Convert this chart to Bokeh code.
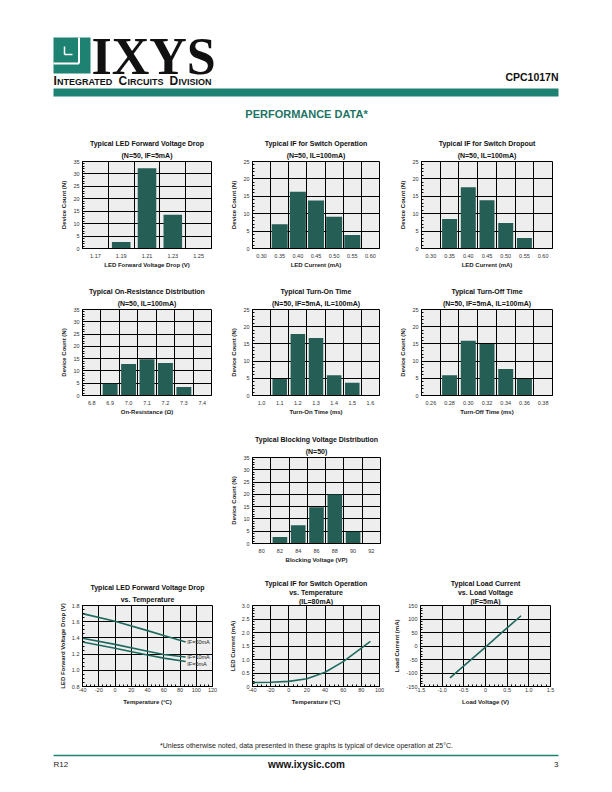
from bokeh.plotting import figure
from bokeh.layouts import column, row
from bokeh.models import (Range1d, Title, SingleIntervalTicker, FixedTicker,
                          NumeralTickFormatter, Spacer)
from bokeh.embed import file_html
from bokeh.resources import INLINE
from bokeh.core.properties import value

FONT = "Liberation Sans"
TEAL = "#1d8272"
BAR = "#245e55"
LINE = "#1f6a5e"
BG = "#eeeeee"

# ---------------- data ----------------
vf_bins = [1.17, 1.19, 1.21, 1.23, 1.25]
vf_counts = [0, 2.6, 32.3, 13.6, 0]

if_op_bins = [0.30, 0.35, 0.40, 0.45, 0.50, 0.55, 0.60]
if_op_counts = [0, 7.0, 16.3, 13.8, 9.1, 3.9, 0]

if_drop_bins = [0.30, 0.35, 0.40, 0.45, 0.50, 0.55, 0.60]
if_drop_counts = [0, 8.5, 17.6, 13.9, 7.3, 3.0, 0]

ron_bins = [6.8, 6.9, 7.0, 7.1, 7.2, 7.3, 7.4]
ron_counts = [0, 4.8, 12.8, 14.8, 13.2, 3.5, 0]

ton_bins = [1.0, 1.1, 1.2, 1.3, 1.4, 1.5, 1.6]
ton_counts = [0, 4.8, 17.9, 16.7, 5.9, 3.7, 0]

toff_bins = [0.26, 0.28, 0.30, 0.32, 0.34, 0.36, 0.38]
toff_counts = [0, 5.9, 15.9, 15.0, 7.7, 4.8, 0]

vb_bins = [80, 82, 84, 86, 88, 90, 92]
vb_counts = [0, 2.6, 7.4, 14.8, 19.9, 4.8, 0]

vf_temp = [-40, 0, 40, 60, 87]
vf_50ma = [1.70, 1.605, 1.49, 1.43, 1.35]
vf_10ma = [1.396, 1.32, 1.235, 1.196, 1.165]
vf_5ma = [1.35, 1.273, 1.19, 1.15, 1.108]
vf_names = ["IF=50mA", "IF=10mA", "IF=5mA"]

if_temp = [-40, -20, 0, 20, 40, 60, 80, 90]
if_curr = [0.15, 0.16, 0.19, 0.29, 0.53, 0.92, 1.42, 1.67]

load_v = [-0.82, -0.4, 0.0, 0.4, 0.82]
load_i = [-118, -60, -4, 53, 112]


def base_fig(w, h, bl, br, bt, bb, xr, yr, titles, inner_standoff):
    p = figure(width=w, height=h, x_range=Range1d(*xr), y_range=Range1d(*yr),
               output_backend="svg", toolbar_location=None, title=None,
               min_border_left=bl, min_border_right=br,
               min_border_top=bt, min_border_bottom=bb)
    p.background_fill_color = BG
    p.border_fill_color = "white"
    p.outline_line_color = "black"
    p.outline_line_width = 1
    p.grid.grid_line_color = "black"
    p.grid.grid_line_width = 1
    for i, t in enumerate(reversed(titles)):
        p.add_layout(Title(text=t, align="center", text_font=FONT,
                           text_font_size="7px", text_font_style="bold",
                           text_color="#111111",
                           standoff=inner_standoff if i == 0 else 0), "above")
    for ax in p.axis:
        ax.axis_line_color = "black"
        ax.major_label_text_font = FONT
        ax.major_label_text_font_size = "5.5px"
        ax.major_label_text_color = "#333333"
        ax.axis_label_text_font = FONT
        ax.axis_label_text_font_size = "6px"
        ax.axis_label_text_font_style = "bold"
        ax.axis_label_text_color = "#222222"
        ax.major_label_standoff = 3
        ax.axis_label_standoff = 3
    return p


def hist(bins, counts, ymax, fmt, xlabel, titles, frac, w, h, bl, br, bt, bb):
    step = bins[1] - bins[0]
    lo = bins[0] - step / 2
    hi = bins[-1] + step / 2
    p = base_fig(w, h, bl, br, bt, bb, (lo, hi), (0, ymax), titles, 6)
    p.vbar(x=bins, top=counts, bottom=0, width=step * frac,
           fill_color=BAR, line_color=None)
    p.xaxis.ticker = FixedTicker(ticks=bins)
    p.xaxis.formatter = NumeralTickFormatter(format=fmt)
    p.xgrid.ticker = FixedTicker(ticks=[b - step / 2 for b in bins] + [hi])
    p.yaxis.ticker = SingleIntervalTicker(interval=5, num_minor_ticks=5)
    p.xaxis.major_tick_line_color = None
    p.xaxis.minor_tick_line_color = None
    p.xaxis.major_tick_in = 0
    p.xaxis.major_tick_out = 0
    p.xaxis.minor_tick_in = 0
    p.xaxis.minor_tick_out = 0
    p.xaxis.major_label_standoff = 5
    p.xaxis.axis_label_standoff = 1
    p.yaxis.major_tick_in = 3
    p.yaxis.major_tick_out = 0
    p.yaxis.minor_tick_in = 2
    p.yaxis.minor_tick_out = 0
    p.xaxis.axis_label = xlabel
    p.yaxis.axis_label = "Device Count (N)"
    return p


def linefig(xr, yr, xint, yint, xminor, yminor, xfmt, yfmt, xlabel, ylabel,
            titles, w, h, bl, br, bt, bb, so, xover=None, yover=None):
    p = base_fig(w, h, bl, br, bt, bb, xr, yr, titles, so)
    p.xaxis.ticker = SingleIntervalTicker(interval=xint, num_minor_ticks=xminor)
    p.yaxis.ticker = SingleIntervalTicker(interval=yint, num_minor_ticks=yminor)
    p.xaxis.formatter = NumeralTickFormatter(format=xfmt)
    p.yaxis.formatter = NumeralTickFormatter(format=yfmt)
    if xover:
        p.xaxis.major_label_overrides = xover
    if yover:
        p.yaxis.major_label_overrides = yover
    for ax in p.axis:
        ax.major_tick_in = 3
        ax.major_tick_out = 0
        ax.minor_tick_in = 2
        ax.minor_tick_out = 0
    p.xaxis.major_label_standoff = 1
    p.xaxis.axis_label_standoff = 4
    p.xaxis.axis_label = xlabel
    p.yaxis.axis_label = ylabel
    return p


# ---------------- header ----------------
hdr = figure(width=596, height=125, x_range=Range1d(0, 596), y_range=Range1d(125, 0),
             min_border=0, toolbar_location=None, output_backend="svg",
             outline_line_color=None)
hdr.axis.visible = False
hdr.grid.visible = False
hdr.quad(left=[45], right=[82], top=[29], bottom=[65], fill_color=TEAL, line_color=None)
hdr.segment(x0=[70.5, 45], y0=[29, 55], x1=[70.5, 70.5], y1=[55, 55],
            line_color="white", line_width=2)
hdr.segment(x0=[56, 56], y0=[38, 46], x1=[56, 64], y1=[46, 46],
            line_color="white", line_width=1.5)
hdr.text(x=[83], y=[48], text=["IXYS"], text_font=value("Liberation Serif"),
         text_font_size="52px", text_font_style="bold", text_baseline="middle",
         text_color="#111111")
sc_big = ["I", "C", "D"]
sc_small = ["NTEGRATED", "IRCUITS", "IVISION"]
sc_x_big = [45, 110, 161]
sc_x_small = [48.5, 119, 170]
hdr.text(x=sc_x_big, y=[72] * 3, text=sc_big, text_font=value(FONT),
         text_font_size="12px", text_font_style="bold", text_baseline="middle",
         text_color="#111111")
hdr.text(x=sc_x_small, y=[73] * 3, text=sc_small, text_font=value(FONT),
         text_font_size="9px", text_font_style="bold", text_baseline="middle",
         text_color="#111111")
hdr.text(x=[550], y=[68], text=["CPC1017N"], text_font=value(FONT),
         text_font_size="10.5px", text_font_style="bold", text_align="right",
         text_baseline="middle", text_color="#111111")
hdr.quad(left=[45], right=[550], top=[80], bottom=[88], fill_color=TEAL, line_color=None)
hdr.text(x=[298], y=[105], text=["PERFORMANCE DATA*"], text_font=value(FONT),
         text_font_size="11px", text_font_style="bold", text_align="center",
         text_baseline="middle", text_color="#1e7565")

# ---------------- charts ----------------
c1 = hist(vf_bins, vf_counts, 35, "0.00", "LED Forward Voltage Drop (V)",
          ["Typical LED Forward Voltage Drop", "(N=50, IF=5mA)"], 0.72,
          210, 147, 74, 7, 28, 32)
c2 = hist(if_op_bins, if_op_counts, 25, "0.00", "LED Current (mA)",
          ["Typical IF for Switch Operation", "(N=50, IL=100mA)"], 0.88,
          170, 147, 34, 9, 28, 32)
c3 = hist(if_drop_bins, if_drop_counts, 25, "0.00", "LED Current (mA)",
          ["Typical IF for Switch Dropout", "(N=50, IL=100mA)"], 0.8,
          216, 147, 33, 52, 28, 32)

c4 = hist(ron_bins, ron_counts, 35, "0.0", "On-Resistance (\u03a9)",
          ["Typical On-Resistance Distribution", "(N=50, IL=100mA)"], 0.81,
          210, 148, 74, 7, 29, 33)
c5 = hist(ton_bins, ton_counts, 25, "0.0", "Turn-On Time (ms)",
          ["Typical Turn-On Time", "(N=50, IF=5mA, IL=100mA)"], 0.8,
          170, 148, 34, 9, 29, 33)
c6 = hist(toff_bins, toff_counts, 25, "0.00", "Turn-Off Time (ms)",
          ["Typical Turn-Off Time", "(N=50, IF=5mA, IL=100mA)"], 0.8,
          216, 148, 33, 52, 29, 33)

c7 = hist(vb_bins, vb_counts, 35, "0", "Blocking Voltage (VP)",
          ["Typical Blocking Voltage Distribution", "(N=50)"], 0.8,
          170, 138, 34, 8, 29, 23)

c8 = linefig((-40, 120), (0.8, 1.8), 20, 0.2, 4, 4, "0", "0.0",
             "Temperature (\u00b0C)", "LED Forward Voltage Drop (V)",
             ["Typical LED Forward Voltage Drop", "vs. Temperature"],
             210, 156, 74, 6, 39, 31, 6)
for ys, nm, dy in zip([vf_50ma, vf_10ma, vf_5ma], vf_names, [0.0, 0.005, -0.03]):
    c8.line(vf_temp, ys, line_color=LINE, line_width=1.6)
    c8.text(x=[vf_temp[-1] + 2], y=[ys[-1] + dy], text=[nm], text_font=value(FONT),
            text_font_size="5.5px", text_baseline="middle", text_color="#222222")

c9 = linefig((-40, 100), (0, 3.0), 20, 0.5, 4, 5, "0", "0.0",
             "Temperature (\u00b0C)", "LED Current (mA)",
             ["Typical IF for Switch Operation", "vs. Temperature", "(IL=80mA)"],
             170, 156, 34, 9, 35, 36, 1, yover={0: "0"})
c9.line(if_temp, if_curr, line_color=LINE, line_width=1.6)

c10 = linefig((-1.5, 1.5), (-150, 150), 0.5, 50, 5, 5, "0.0", "0",
              "Load Voltage (V)", "Load Current (mA)",
              ["Typical Load Current", "vs. Load Voltage", "(IF=5mA)"],
              216, 156, 32, 54, 36, 32, 1, xover={0: "0"})
c10.line(load_v, load_i, line_color=LINE, line_width=1.6)

# ---------------- footer ----------------
ftr = figure(width=596, height=62, x_range=Range1d(0, 596), y_range=Range1d(62, 0),
             min_border=0, toolbar_location=None, output_backend="svg",
             outline_line_color=None)
ftr.axis.visible = False
ftr.grid.visible = False
ftr.text(x=[298], y=[23], text=["*Unless otherwise noted, data presented in these graphs is typical of device operation at 25\u00b0C."],
         text_font=value(FONT), text_font_size="7px", text_align="center",
         text_baseline="middle", text_color="#222222")
ftr.segment(x0=[45], y0=[33], x1=[550], y1=[33], line_color=TEAL, line_width=1.5)
ftr.text(x=[45], y=[42], text=["R12"], text_font=value(FONT), text_font_size="8px",
         text_baseline="middle", text_color="#222222")
ftr.text(x=[298], y=[42], text=["www.ixysic.com"], text_font=value(FONT),
         text_font_size="10px", text_font_style="bold", text_align="center",
         text_baseline="middle", text_color="#111111")
ftr.text(x=[550], y=[42], text=["3"], text_font=value(FONT), text_font_size="8px",
         text_align="right", text_baseline="middle", text_color="#222222")

page = column(
    hdr,
    row(c1, c2, c3),
    row(c4, c5, c6),
    row(Spacer(width=210, height=138), c7, Spacer(width=216, height=138)),
    row(c8, c9, c10),
    ftr,
)

layout = column(Spacer(width=604, height=8), row(Spacer(width=8, height=776), page))

open("out.html", "w").write(file_html(layout, INLINE))
